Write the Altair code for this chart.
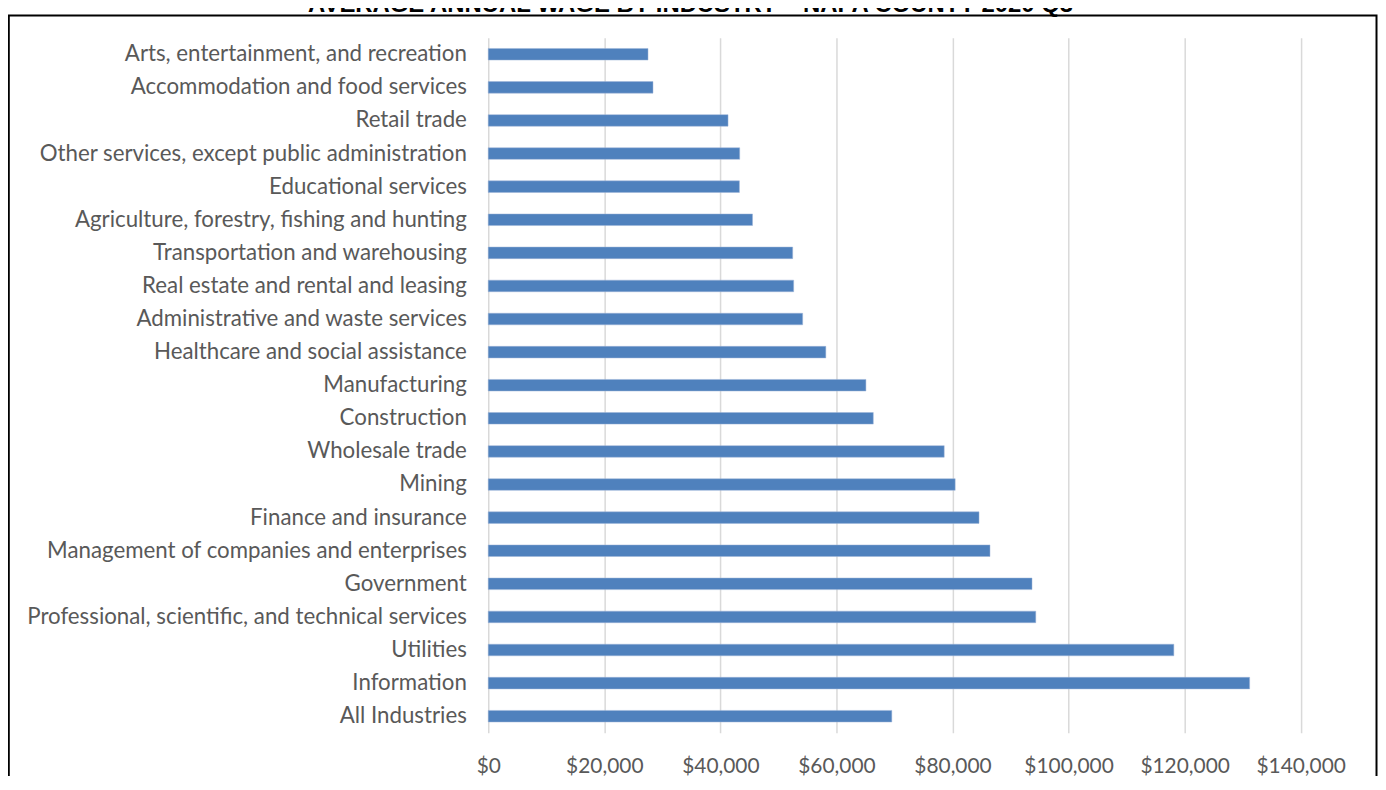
import altair as alt
import pandas as pd

title_text = "AVERAGE ANNUAL WAGE BY INDUSTRY \u2013 NAPA COUNTY 2020 Q3"

industries = [
    "Arts, entertainment, and recreation",
    "Accommodation and food services",
    "Retail trade",
    "Other services, except public administration",
    "Educational services",
    "Agriculture, forestry, fishing and hunting",
    "Transportation and warehousing",
    "Real estate and rental and leasing",
    "Administrative and waste services",
    "Healthcare and social assistance",
    "Manufacturing",
    "Construction",
    "Wholesale trade",
    "Mining",
    "Finance and insurance",
    "Management of companies and enterprises",
    "Government",
    "Professional, scientific, and technical services",
    "Utilities",
    "Information",
    "All Industries",
]

wages = [
    27530, 28390, 41320, 43330, 43280, 45540, 52460, 52630, 54180, 58170,
    65080, 66350, 78570, 80460, 84570, 86460, 93700, 94350, 118140, 131200,
    69540,
]

x_ticks = [0, 20000, 40000, 60000, 80000, 100000, 120000, 140000]

df = pd.DataFrame({"industry": industries, "wage": wages})

PLOT_W = 816.6
PLOT_H = 698.6
PAD_L = 482.7
PAD_T = 27.9

bars = alt.Chart(df).mark_bar(color="#4F81BD", stroke="#9DB5D9", strokeWidth=0.5).encode(
    x=alt.X(
        "wage:Q",
        scale=alt.Scale(domain=[0, 140000], nice=False, zero=True),
        axis=alt.Axis(
            values=x_ticks,
            format="$,.0f",
            title=None,
            grid=True,
            gridColor="#D9D9D9",
            gridWidth=1.5,
            domain=False,
            ticks=False,
            labelOverlap=False,
            labelFlush=False,
            labelFont="Lato",
            labelFontSize=21,
            labelColor="#595959",
            labelPadding=23,
        ),
    ),
    y=alt.Y(
        "industry:N",
        sort=industries,
        scale=alt.Scale(paddingInner=0.65, paddingOuter=0.325),
        axis=alt.Axis(
            title=None,
            domain=False,
            ticks=False,
            grid=False,
            labelFont="Lato",
            labelFontSize=22.4,
            labelColor="#595959",
            labelPadding=22,
            labelLimit=600,
        ),
    ),
)

one = pd.DataFrame({"t": [title_text]})

frame = alt.Chart(one).mark_rect(fill="transparent", stroke="#000000", strokeWidth=2).encode(
    x=alt.value(0.8 - PAD_L),
    x2=alt.value(1375.5 - PAD_L),
    y=alt.value(5.5 - PAD_T),
    y2=alt.value(900),
)

title = alt.Chart(one).mark_text(
    font="Liberation Sans",
    fontSize=24,
    fontWeight="bold",
    color="#000000",
    align="center",
    baseline="alphabetic",
).encode(
    text="t:N",
    x=alt.value(686 - PAD_L),
    y=alt.value(2 - PAD_T),
)

chart = alt.layer(bars, frame, title).properties(
    width=PLOT_W,
    height=PLOT_H,
    padding={"left": PAD_L, "top": PAD_T, "right": 77.7, "bottom": 41.5},
    autosize=alt.AutoSizeParams(type="none"),
    background="white",
).configure_view(stroke=None)

chart.save("out.html", embed_options={"renderer": "svg", "actions": False})
